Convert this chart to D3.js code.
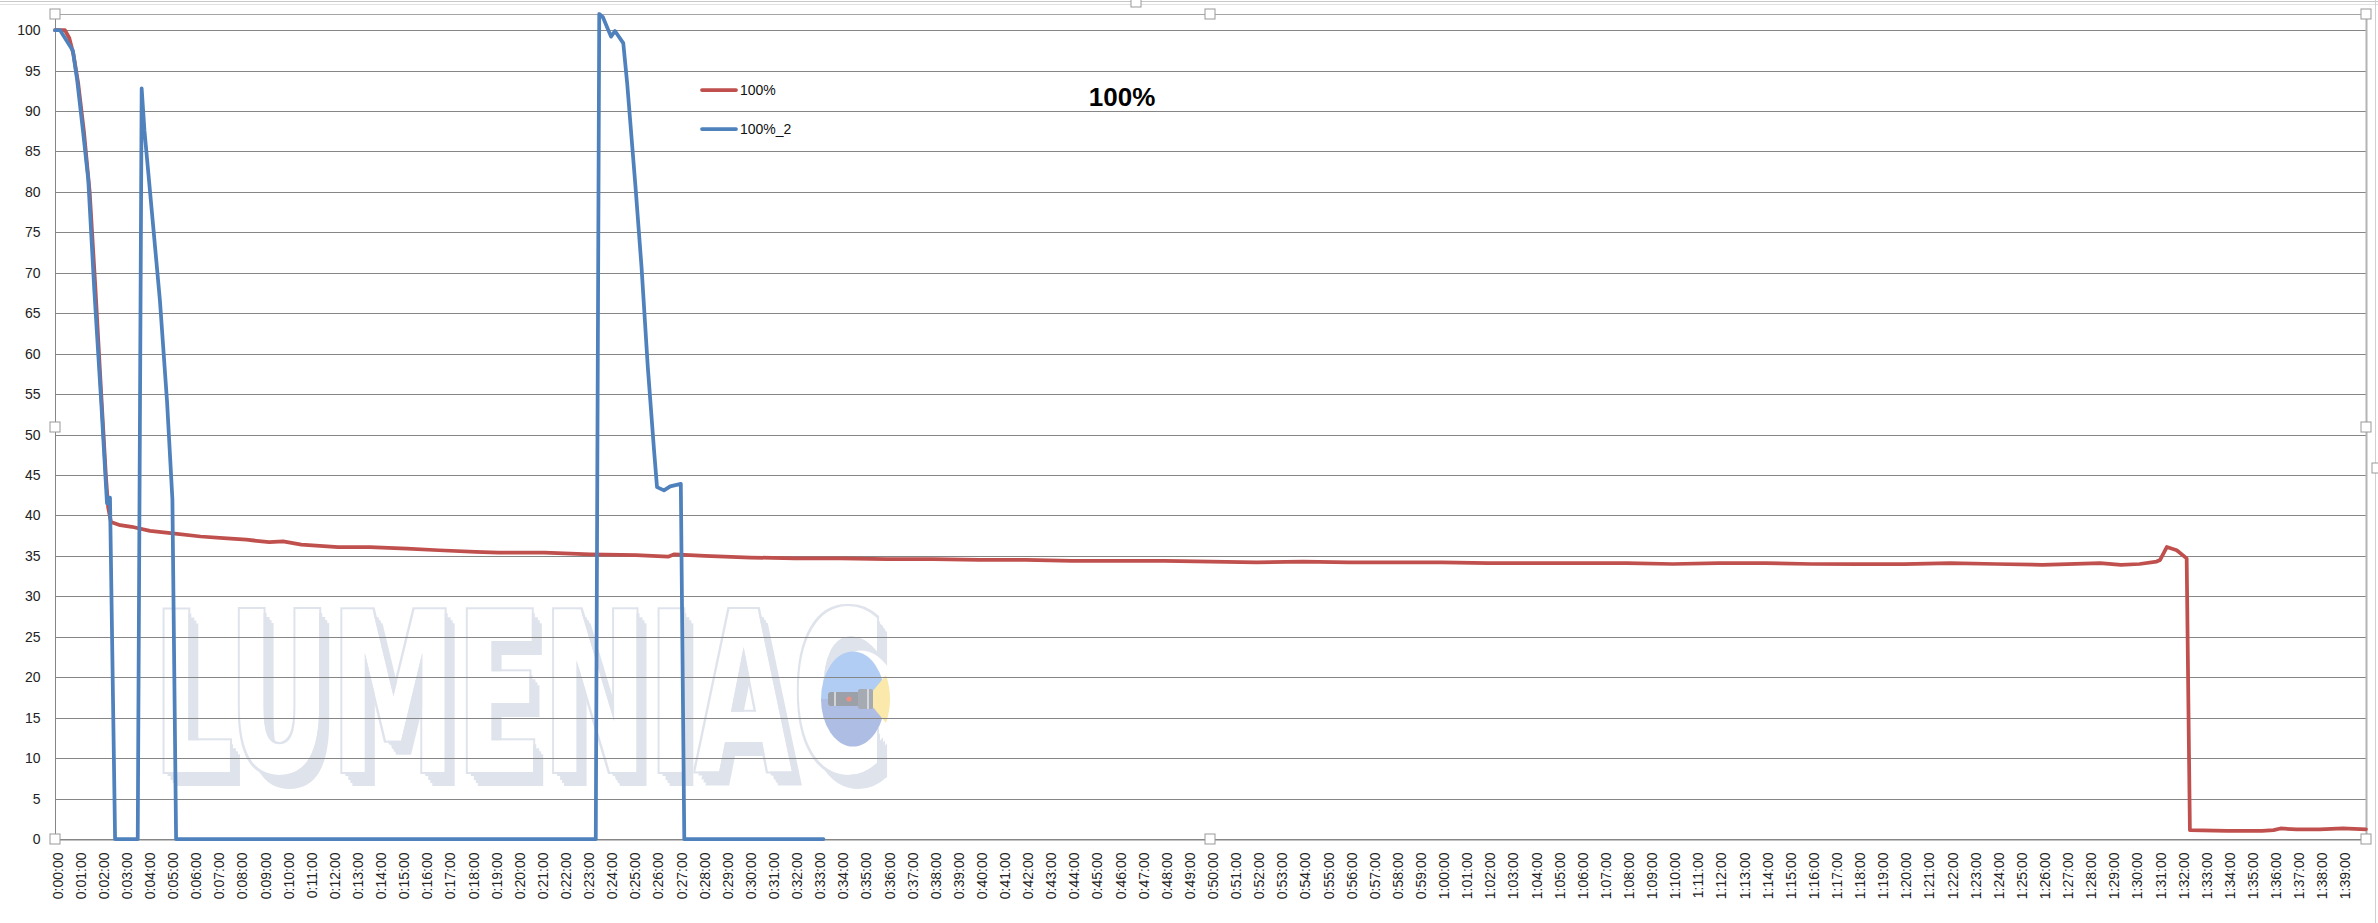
<!DOCTYPE html>
<html>
<head>
<meta charset="utf-8">
<script src="https://cdn.jsdelivr.net/npm/d3@7"></script>
<style>
  html, body { margin: 0; padding: 0; background: #ffffff; }
  svg { display: block; }
</style>
</head>
<body>
<div id="chart"></div>
<script>
// ---------------- DATA ----------------
const seriesNames = ["100%", "100%_2"];
const chartTitle = "100%";

// Series "100%" (red): elapsed minutes and value
const redMinutes = [0, 0.43, 0.62, 0.80, 1.00, 1.25, 1.50, 1.75, 2.00, 2.20, 2.30, 2.42, 2.82, 3.32, 4.11, 5.10,
  6.30, 7.29, 8.28, 9.27, 9.87, 10.66, 12.25, 13.63, 15.23, 16.61, 18.20, 19.19, 21.18, 23.16, 25.14,
  26.53, 26.80, 28.12, 30.10, 32, 34, 36, 38, 40, 42, 44, 46, 48, 50, 52, 54, 56, 58, 60, 62, 64, 66,
  68, 70, 72, 74, 76, 78, 80, 82, 84, 86, 88.5, 89.4, 90.2, 90.94, 91.09, 91.38, 91.81, 92.24, 92.38,
  94, 95.5, 96.0, 96.3, 97.0, 98.0, 99.0, 100.0];
const redValues = [100, 100, 99, 97, 93.5, 87.5, 80, 68, 55, 45, 41, 39.2, 38.8, 38.6, 38.1, 37.8,
  37.4, 37.2, 37.0, 36.7, 36.8, 36.4, 36.1, 36.1, 35.9, 35.7, 35.5, 35.4, 35.4, 35.2, 35.1,
  34.9, 35.2, 35.0, 34.8, 34.7, 34.7, 34.6, 34.6, 34.5, 34.5, 34.4, 34.4, 34.4, 34.3, 34.2, 34.3, 34.2, 34.2, 34.2, 34.1, 34.1, 34.1,
  34.1, 34.0, 34.1, 34.1, 34.0, 34.0, 34.0, 34.1, 34.0, 33.9, 34.1, 33.9, 34.0, 34.3, 34.5, 36.1, 35.7, 34.7, 1.1,
  1.0, 1.0, 1.1, 1.3, 1.2, 1.2, 1.3, 1.2];

// Series "100%_2" (blue)
const blueMinutes = [0, 0.22, 0.77, 0.96, 1.22, 1.44, 1.70, 2.00, 2.25, 2.30, 2.38, 2.60,
  3.58, 3.75, 3.87, 4.04, 4.54, 4.85, 5.08, 5.24,
  23.40, 23.55, 23.71, 24.06, 24.23, 24.59, 24.76, 25.12, 25.38, 25.65, 25.92, 26.05, 26.35, 26.62, 27.08, 27.23, 33.25];
const blueValues = [100, 100, 97.5, 93.8, 87.3, 81.5, 67.9, 54, 41.5, 42.2, 42.2, 0,
  0, 92.8, 87.6, 82.3, 66.6, 54, 42, 0,
  0, 102, 101.6, 99.2, 99.9, 98.4, 93.4, 80.6, 70.7, 58.4, 48.1, 43.5, 43.1, 43.6, 43.9, 0, 0];

const yTicks = [0, 5, 10, 15, 20, 25, 30, 35, 40, 45, 50, 55, 60, 65, 70, 75, 80, 85, 90, 95, 100];
const xTickMinutes = d3.range(0, 100); // one label per minute, 0:00:00 … 1:39:00
const fmtTime = m => `${Math.floor(m / 60)}:${String(m % 60).padStart(2, "0")}:00`;

// ---------------- LAYOUT ----------------
const W = 2378, H = 923;
const plot = { left: 55, right: 2366, top: 14, bottom: 839 };
const colors = { red: "#C0504D", blue: "#4F81BD", grid: "#868686", wm: "#dfe3ec" };

const svg = d3.select("#chart").append("svg")
  .attr("width", W).attr("height", H)
  .attr("viewBox", `0 0 ${W} ${H}`);

svg.append("rect").attr("width", W).attr("height", H).attr("fill", "#fff");

const x = d3.scaleLinear().domain([0, 100]).range([plot.left, plot.right]);
const y = d3.scaleLinear().domain([0, 102]).range([plot.bottom, plot.top]);

// ------- chart-area frame (selected chart look) -------
svg.append("line").attr("x1", 0).attr("x2", W).attr("y1", 1.5).attr("y2", 1.5)
  .attr("stroke", "#c8c8c8").attr("stroke-width", 1);
svg.append("line").attr("x1", 0).attr("x2", W).attr("y1", 4.5).attr("y2", 4.5)
  .attr("stroke", "#e2e2e2").attr("stroke-width", 1);
svg.append("line").attr("x1", 2375.5).attr("x2", 2375.5).attr("y1", 0).attr("y2", H)
  .attr("stroke", "#d0d0d0").attr("stroke-width", 1);

// ------- watermark (single text, extruded outline drawn by a filter) -------
const defs = svg.append("defs");
const f = defs.append("filter").attr("id", "wmf")
  .attr("filterUnits", "userSpaceOnUse").attr("x", 100).attr("y", 560).attr("width", 900).attr("height", 280);
const offs = [[3, 4], [6, 8], [8, 11], [10, 14]];
offs.forEach((o, i) => f.append("feOffset").attr("in", "SourceAlpha").attr("dx", o[0]).attr("dy", o[1]).attr("result", "o" + i));
const mg = f.append("feMerge").attr("result", "ext");
offs.forEach((o, i) => mg.append("feMergeNode").attr("in", "o" + i));
f.append("feComposite").attr("in", "ext").attr("in2", "SourceAlpha").attr("operator", "out").attr("result", "band");
f.append("feMorphology").attr("in", "SourceAlpha").attr("operator", "dilate").attr("radius", 1.5).attr("result", "dil");
f.append("feComposite").attr("in", "dil").attr("in2", "SourceAlpha").attr("operator", "out").attr("result", "outline");
const mg2 = f.append("feMerge").attr("result", "shape");
mg2.append("feMergeNode").attr("in", "band");
mg2.append("feMergeNode").attr("in", "outline");
f.append("feFlood").attr("flood-color", colors.wm).attr("result", "col");
f.append("feComposite").attr("in", "col").attr("in2", "shape").attr("operator", "in");

const wm = svg.append("g").attr("class", "watermark");
wm.append("text").attr("x", 153).attr("y", 772)
  .attr("font-family", "'Liberation Sans Narrow', 'DejaVu Sans Condensed', 'Liberation Sans', sans-serif")
  .attr("font-weight", "bold").attr("font-size", 223)
  .attr("textLength", 732).attr("lengthAdjust", "spacingAndGlyphs")
  .attr("fill", "#000").attr("filter", "url(#wmf)").text("LUMENIAC");

// logo
const logo = wm.append("g");
defs.append("clipPath").attr("id", "logoTop").append("rect").attr("x", 800).attr("y", 640).attr("width", 100).attr("height", 59);
defs.append("clipPath").attr("id", "logoBot").append("rect").attr("x", 800).attr("y", 699).attr("width", 100).attr("height", 60);
logo.append("ellipse").attr("cx", 853).attr("cy", 699).attr("rx", 32).attr("ry", 47.5)
  .attr("fill", "#b1cdf3").attr("clip-path", "url(#logoTop)");
logo.append("ellipse").attr("cx", 853).attr("cy", 699).attr("rx", 32).attr("ry", 47.5)
  .attr("fill", "#aebde3").attr("clip-path", "url(#logoBot)");
logo.append("path").attr("d", "M872,692 L886,675 Q894,699 886,723 L872,706 Z").attr("fill", "#fae9aa");
logo.append("rect").attr("x", 828).attr("y", 692).attr("width", 32).attr("height", 14).attr("rx", 3).attr("fill", "#9ca1a9");
logo.append("rect").attr("x", 858).attr("y", 689).attr("width", 15).attr("height", 20).attr("rx", 2).attr("fill", "#a6abb3");
logo.append("line").attr("x1", 835).attr("x2", 835).attr("y1", 692).attr("y2", 706).attr("stroke", "#e4e6e9").attr("stroke-width", 1.5);
logo.append("line").attr("x1", 868).attr("x2", 868).attr("y1", 689).attr("y2", 709).attr("stroke", "#e4e6e9").attr("stroke-width", 1.5);
logo.append("circle").attr("cx", 849).attr("cy", 699).attr("r", 2.5).attr("fill", "#ee8f80");

// ------- gridlines -------
svg.append("g").selectAll("line").data(yTicks).join("line")
  .attr("x1", plot.left).attr("x2", plot.right)
  .attr("y1", d => Math.round(y(d)) + 0.5).attr("y2", d => Math.round(y(d)) + 0.5)
  .attr("stroke", colors.grid).attr("stroke-width", 1);

// plot-area border top/right
svg.append("line").attr("x1", plot.left).attr("x2", plot.right).attr("y1", plot.top + 0.5).attr("y2", plot.top + 0.5)
  .attr("stroke", "#a6a6a6").attr("stroke-width", 1);
svg.append("line").attr("x1", plot.right + 0.5).attr("x2", plot.right + 0.5).attr("y1", plot.top).attr("y2", plot.bottom)
  .attr("stroke", "#b4b4b4").attr("stroke-width", 2);

// ------- axes -------
const yAxis = d3.axisLeft(y).tickValues(yTicks).tickSize(0).tickPadding(15).tickFormat(d3.format("d"));
const gy = svg.append("g").attr("transform", `translate(${plot.left + 0.5},0)`).call(yAxis);
gy.select(".domain").attr("stroke", colors.grid).attr("d", `M0,${plot.top}V${plot.bottom}`);
gy.selectAll("text").attr("font-family", "'Liberation Sans', Arial, sans-serif").attr("font-size", 14).attr("fill", "#222");

const xAxis = d3.axisBottom(x).tickValues(xTickMinutes).tickSize(0).tickFormat(fmtTime);
const gx = svg.append("g").attr("transform", `translate(0,${Math.round(plot.bottom) + 0.5})`).call(xAxis);
gx.select(".domain").attr("stroke", colors.grid);
gx.selectAll(".tick text")
  .attr("font-family", "'Liberation Sans', Arial, sans-serif").attr("font-size", 14).attr("fill", "#222")
  .attr("text-anchor", "end")
  .attr("transform", "translate(2,13) rotate(-90)")
  .attr("x", 0).attr("y", 0).attr("dy", "0.36em");

// ------- series -------
const redData = redMinutes.map((m, i) => ({ m, v: redValues[i] }));
const blueData = blueMinutes.map((m, i) => ({ m, v: blueValues[i] }));
const line = d3.line().x(d => x(d.m)).y(d => y(d.v));

svg.append("path").datum(redData).attr("d", line)
  .attr("fill", "none").attr("stroke", colors.red).attr("stroke-width", 3.75)
  .attr("stroke-linejoin", "round").attr("stroke-linecap", "round");
svg.append("path").datum(blueData).attr("d", line)
  .attr("fill", "none").attr("stroke", colors.blue).attr("stroke-width", 3.75)
  .attr("stroke-linejoin", "round").attr("stroke-linecap", "round");

// ------- legend -------
const legend = svg.append("g");
[{ name: seriesNames[0], c: colors.red, ly: 90 }, { name: seriesNames[1], c: colors.blue, ly: 129 }].forEach(d => {
  legend.append("line").attr("x1", 702).attr("x2", 736).attr("y1", d.ly).attr("y2", d.ly)
    .attr("stroke", d.c).attr("stroke-width", 3.75).attr("stroke-linecap", "round");
  legend.append("text").attr("x", 740).attr("y", d.ly + 5)
    .attr("font-family", "'Liberation Sans', Arial, sans-serif").attr("font-size", 14).attr("fill", "#111")
    .text(d.name);
});

// ------- title -------
svg.append("text").attr("x", 1122).attr("y", 106).attr("text-anchor", "middle")
  .attr("font-family", "'Liberation Sans', Arial, sans-serif").attr("font-weight", "bold").attr("font-size", 26)
  .attr("fill", "#000").text(chartTitle);

// ------- selection handles -------
const handles = [
  [plot.left, plot.top], [1210, plot.top], [plot.right, plot.top],
  [plot.left, 427], [plot.right, 427],
  [plot.left, plot.bottom], [1210, plot.bottom], [plot.right, plot.bottom],
  [1136, 2], [2377, 468]
];
svg.append("g").selectAll("rect").data(handles).join("rect")
  .attr("x", d => d[0] - 5).attr("y", d => d[1] - 5).attr("width", 10).attr("height", 10)
  .attr("fill", "#fff").attr("stroke", "#999").attr("stroke-width", 1);
</script>
</body>
</html>
